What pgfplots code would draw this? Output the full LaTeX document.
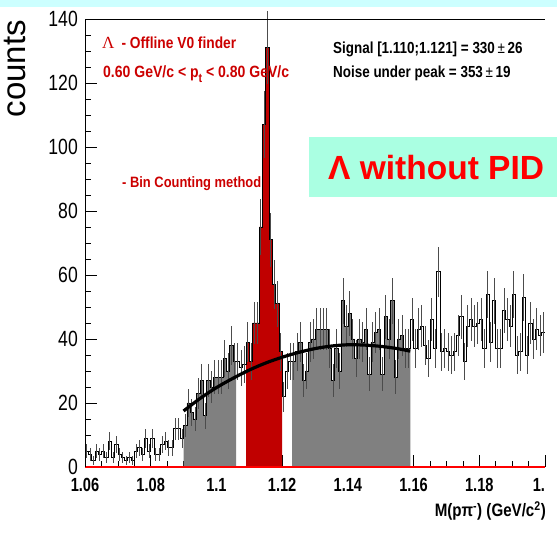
\documentclass[border=0pt]{standalone}
\usepackage{fontspec}
\setmainfont{Liberation Sans}
\newfontfamily\ytf[FakeStretch=0.8]{Liberation Sans}
\newfontfamily\xtf[FakeStretch=0.77]{Liberation Sans}
\newfontfamily\rtf[FakeStretch=0.86]{Liberation Sans}
\newfontfamily\btf[FakeStretch=0.84]{Liberation Sans}
\newfontfamily\serif{Liberation Serif}
\usepackage{pgfplots}
\pgfplotsset{compat=1.18}
\usepackage{pgfplotstable}
\definecolor{rootgray}{RGB}{128,128,128}
\definecolor{rootred}{RGB}{192,0,0}
\definecolor{txtred}{RGB}{204,0,0}
\definecolor{boxcol}{RGB}{170,255,226}
\definecolor{topcol}{RGB}{204,255,255}

\pgfplotstableread{
x y
1.060 5
1.061 4
1.062 2
1.063 5
1.064 4
1.065 5
1.066 3
1.067 8
1.068 3
1.069 7
1.070 4
1.071 3
1.072 2
1.073 3
1.074 2
1.075 5
1.076 6
1.077 4
1.078 9
1.079 5
1.080 9
1.081 4
1.082 4
1.083 7
1.084 8
1.085 6
1.086 6
1.087 12
1.088 12
1.089 9
1.090 13
1.091 20
1.092 17
1.093 15
1.094 23
1.095 27
1.096 16
1.097 27
1.098 25
1.099 28
1.100 28
1.101 28
1.102 34
1.103 30
1.104 38
1.105 33
1.106 33
1.107 31
1.108 32
1.109 39
1.110 33
1.111 45
1.112 45
1.113 75
1.114 107
1.115 131
1.116 71
1.117 57
1.118 51
1.119 36
1.120 22
1.121 30
1.122 33
1.123 33
1.124 36
1.125 39
1.126 27
1.127 30
1.128 39
1.129 40
1.130 43
1.131 43
1.132 43
1.133 43
1.134 37
1.135 27
1.136 37
1.137 30
1.138 52
1.139 44
1.140 48
1.141 40
1.142 34
1.143 40
1.144 39
1.145 43
1.146 29
1.147 39
1.148 42
1.149 43
1.150 29
1.151 47
1.152 40
1.153 52
1.154 28
1.155 40
1.156 41
1.157 37
1.158 37
1.159 46
1.160 37
1.161 43
1.162 44
1.163 38
1.164 34
1.165 46
1.166 37
1.167 61
1.168 36
1.169 37
1.170 36
1.171 35
1.172 36
1.173 41
1.174 47
1.175 33
1.176 44
1.177 46
1.178 44
1.179 45
1.180 46
1.181 37
1.182 54
1.183 39
1.184 52
1.185 37
1.186 37
1.187 49
1.188 46
1.189 44
1.190 54
1.191 35
1.192 36
1.193 53
1.194 35
1.195 45
1.196 40
1.197 43
1.198 41
1.199 42
1.200 42
}\hist

\begin{document}
\begin{tikzpicture}
\useasboundingbox (0,0) rectangle (557pt,534pt);
\fill[white] (0,0) rectangle (557pt,534pt);
\fill[topcol] (0,527pt) rectangle (557pt,534pt);
\begin{axis}[
  at={(85pt,67pt)}, anchor=south west,
  width=460pt, height=448pt, scale only axis,
  xmin=1.06, xmax=1.2, ymin=0, ymax=140,
  axis line style={draw=none},
  tick pos=left, tick align=inside,
  xtick={1.06,1.08,1.1,1.12,1.14,1.16,1.18,1.2},
  xticklabels={1.06,1.08,1.1,1.12,1.14,1.16,1.18,\makebox[0pt][r]{1.}},
  minor x tick num=3,
  ytick={0,20,40,60,80,100,120,140},
  minor y tick num=3,
  major tick length=12pt, minor tick length=6pt,
  every tick/.style={black, line width=0.7pt},
  /pgf/number format/assume math mode=true,
  yticklabel style={font=\ytf\fontsize{22}{22}\selectfont, inner sep=0pt, xshift=-7pt},
  xticklabel style={font=\xtf\bfseries\fontsize{19}{19}\selectfont, inner sep=0pt, text depth=0pt, yshift=-11pt},
  clip=false,
]
\addplot[const plot, fill=rootgray, draw=none, restrict x to domain=1.0899:1.1061] table[x=x,y=y]{\hist} \closedcycle;
\addplot[const plot, fill=rootgray, draw=none, restrict x to domain=1.1229:1.1591] table[x=x,y=y]{\hist} \closedcycle;
\addplot[const plot, fill=rootred, draw=none, restrict x to domain=1.1089:1.1201] table[x=x,y=y]{\hist} \closedcycle;
\addplot[const plot, black, line width=0.7pt] table[x=x,y=y]{\hist};
\addplot[draw=none, mark=none, restrict x to domain=1.0595:1.1995,
  error bars/.cd, y dir=both, y explicit, error mark=none,
  error bar style={draw=black!70, line width=0.8pt}]
  table[x expr=\thisrow{x}+0.0005, y=y, y error expr={sqrt(\thisrow{y})}]{\hist};
\addplot[black, line width=3.2pt, smooth] coordinates {
(1.090,17.5) (1.095,21.4) (1.100,24.8) (1.105,27.7) (1.110,30.3) (1.115,32.5)
(1.120,34.3) (1.125,35.8) (1.130,37.0) (1.135,37.8) (1.140,38.2) (1.145,38.1)
(1.150,37.7) (1.155,37.0) (1.159,36.2)};
\addplot[red, line width=2pt] coordinates {(1.06,0) (1.2,0)};
\end{axis}
\draw[black, line width=0.8pt] (85pt,67pt) -- (85pt,515pt) -- (545pt,515pt);
% y label
\node[rotate=90, anchor=base east, inner sep=0pt, font=\fontsize{33}{33}\selectfont] at (25pt,514pt) {counts};
% x label
\node[anchor=base east, inner sep=0pt, font=\btf\bfseries\fontsize{18}{18}\selectfont] at (546pt,17pt) {M(pπ\textsuperscript{-}) (GeV/c\textsuperscript{2})};
% red annotations
\node[anchor=base west, inner sep=0pt, text=txtred, font=\rtf\bfseries\fontsize{16}{16}\selectfont] at (102pt,485pt) {{\serif\mdseries\fontsize{17}{17}\selectfont Λ}\hspace{7pt}- Offline V0 finder};
\node[anchor=base west, inner sep=0pt, text=txtred, font=\rtf\bfseries\fontsize{16.3}{16.3}\selectfont] at (103pt,456pt) {0.60 GeV/c < p\raisebox{-5pt}{\fontsize{12.5}{12.5}\selectfont t} < 0.80 GeV/c};
\node[anchor=base west, inner sep=0pt, text=txtred, font=\rtf\bfseries\fontsize{15}{15}\selectfont] at (122pt,346pt) {- Bin Counting method};
% black annotations
\node[anchor=base west, inner sep=0pt, font=\btf\bfseries\fontsize{16}{16}\selectfont] at (333pt,480pt) {Signal [1.110;1.121] = 330\,{\mdseries ±}\,26};
\node[anchor=base west, inner sep=0pt, font=\btf\bfseries\fontsize{16}{16}\selectfont] at (333pt,456pt) {Noise under peak = 353\,{\mdseries ±}\,19};
% box
\fill[boxcol] (309pt,337pt) rectangle (557pt,397pt);
\node[anchor=base west, inner sep=0pt, text=red, font=\bfseries\fontsize{33.5}{33.5}\selectfont] at (328pt,354pt) {Λ without PID};
\end{tikzpicture}
\end{document}
